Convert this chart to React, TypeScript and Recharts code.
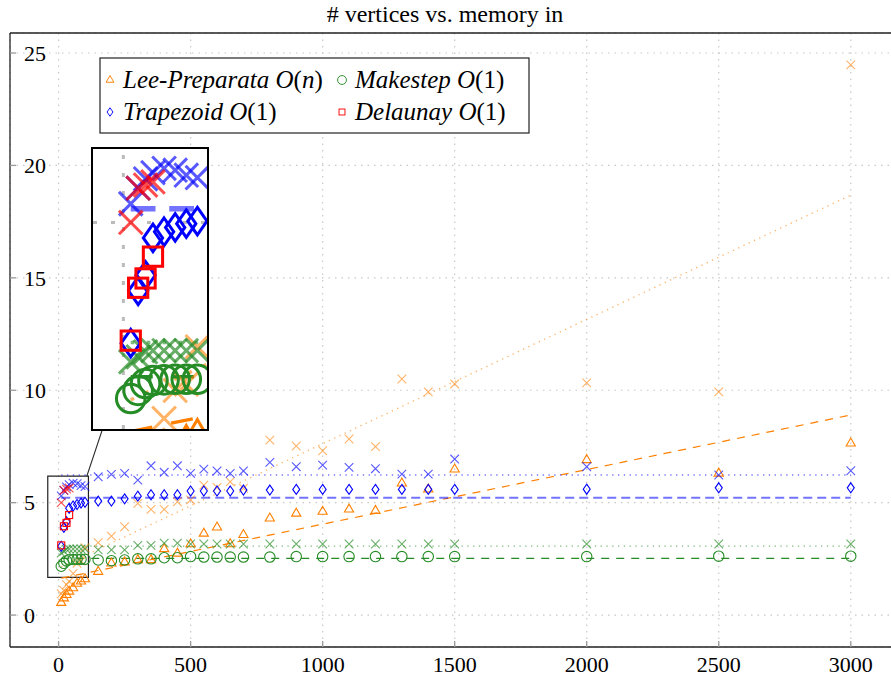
import React from 'react';
import {
  ScatterChart,
  Scatter,
  XAxis,
  YAxis,
  CartesianGrid,
  ReferenceArea,
  ReferenceLine,
} from 'recharts';

// number of vertices used in the runs
const sizes = [
  10, 20, 30, 40, 55, 70, 85, 100, 150, 200, 250, 300, 350, 400, 450, 500, 550, 600, 650,
  700, 800, 900, 1000, 1100, 1200, 1300, 1400, 1500, 2000, 2500, 3000,
];

const leeMem = [
  0.55, 0.75, 0.9, 1.05, 1.2, 1.4, 1.5, 1.6, 1.93, 2.3, 2.35, 2.45, 2.45, 2.94, 2.74, 3.16,
  3.63, 3.9, 3.16, 3.57, 4.3, 4.52, 4.6, 4.7, 4.64, 5.86, 5.59, 6.48, 6.9, 6.3, 7.64,
];
const leeAlt = [
  0.95, 1.1, 1.35, 1.5, 1.85, 2.3, 2.4, 3.0, 3.22, 3.51, 3.93, 4.97, 4.7, 4.7, 5.04, 5.12,
  5.78, 5.68, 5.93, 5.64, 7.78, 7.52, 7.31, 7.83, 7.49, 10.5, 9.93, 10.28, 10.33, 9.93, 24.47,
];
const makeMem = [
  2.17, 2.3, 2.41, 2.46, 2.47, 2.48, 2.48, 2.48, 2.45, 2.42, 2.45, 2.5, 2.5, 2.55, 2.55, 2.6,
  2.58, 2.58, 2.58, 2.58, 2.58, 2.6, 2.6, 2.6, 2.6, 2.6, 2.6, 2.6, 2.6, 2.62, 2.62,
];
const makeAlt = [
  2.76, 2.84, 2.92, 2.94, 2.94, 2.94, 2.94, 2.94, 2.9, 2.9, 2.9, 3.1, 3.1, 3.2, 3.2, 3.16,
  3.16, 3.16, 3.16, 3.16, 3.16, 3.16, 3.16, 3.16, 3.16, 3.16, 3.16, 3.16, 3.16, 3.16, 3.16,
];
const trapMem = [
  3.06, 3.9, 4.15, 4.75, 4.85, 4.92, 4.98, 5.02, 5.07, 5.07, 5.17, 5.29, 5.35, 5.35, 5.35,
  5.52, 5.52, 5.52, 5.52, 5.56, 5.56, 5.59, 5.59, 5.59, 5.59, 5.59, 5.59, 5.59, 5.6, 5.66, 5.66,
];
const trapAlt = [
  5.3, 5.55, 5.7, 5.8, 5.87, 5.84, 5.76, 5.72, 6.15, 6.26, 6.3, 6.0, 6.64, 6.35, 6.64, 6.3,
  6.49, 6.41, 6.3, 6.41, 6.79, 6.6, 6.67, 6.57, 6.51, 6.27, 6.27, 6.94, 6.6, 6.23, 6.42,
];
const delSizes = [10, 20, 30, 40];
const delMem = [3.1, 3.95, 4.1, 4.45];
const delAlt = [5.0, 5.55, 5.6, 5.65];

// fitted trend lines (end points)
const fitX = [10, 3000];
const leeFit = [1.64, 8.9];
const leeAltFit = [2.15, 18.68];
const makeFit = [2.52, 2.52];
const makeAltFit = [3.07, 3.07];
const trapFit = [5.22, 5.22];
const trapAltFit = [6.23, 6.23];

const xTicks = [0, 500, 1000, 1500, 2000, 2500, 3000];
const yTicks = [0, 5, 10, 15, 20, 25];

const LEE = '#ff8000';
const MAKE = '#268c26';
const TRAP = '#0000ff';
const DEL = '#ff0000';
const FONT = 'Liberation Serif';

type Kind = 'tri' | 'circ' | 'diam' | 'sq' | 'x';

const pts = (xs: number[], ys: number[]) => xs.map((x, i) => ({ x, y: ys[i] }));

function Marker({ kind, cx, cy, color, k, op }: { kind: Kind; cx: number; cy: number; color: string; k: number; op: number }) {
  const common = { fill: 'none', stroke: color, strokeWidth: 1.1 * k, strokeOpacity: op };
  if (kind === 'tri') {
    const r = 5.3 * k;
    return <polygon points={`${cx},${cy - r} ${cx - 0.866 * r},${cy + 0.5 * r} ${cx + 0.866 * r},${cy + 0.5 * r}`} {...common} />;
  }
  if (kind === 'circ') return <circle cx={cx} cy={cy} r={5.2 * k} {...common} />;
  if (kind === 'diam') {
    const h = 5 * k;
    const w = 3.5 * k;
    return <polygon points={`${cx},${cy - h} ${cx + w},${cy} ${cx},${cy + h} ${cx - w},${cy}`} {...common} />;
  }
  if (kind === 'sq') {
    const s = 3.5 * k;
    return <rect x={cx - s} y={cy - s} width={2 * s} height={2 * s} {...common} />;
  }
  const s = 4.3 * k;
  return <path d={`M${cx - s},${cy - s}L${cx + s},${cy + s}M${cx - s},${cy + s}L${cx + s},${cy - s}`} {...common} />;
}

const markSeries: { id: string; xs: number[]; ys: number[]; kind: Kind; color: string; op: number }[] = [
  { id: 'leeX', xs: sizes, ys: leeAlt, kind: 'x', color: LEE, op: 0.6 },
  { id: 'lee', xs: sizes, ys: leeMem, kind: 'tri', color: LEE, op: 1 },
  { id: 'makeX', xs: sizes, ys: makeAlt, kind: 'x', color: MAKE, op: 0.7 },
  { id: 'make', xs: sizes, ys: makeMem, kind: 'circ', color: MAKE, op: 1 },
  { id: 'trapX', xs: sizes, ys: trapAlt, kind: 'x', color: TRAP, op: 0.65 },
  { id: 'trap', xs: sizes, ys: trapMem, kind: 'diam', color: TRAP, op: 1 },
  { id: 'delX', xs: delSizes, ys: delAlt, kind: 'x', color: DEL, op: 0.7 },
  { id: 'del', xs: delSizes, ys: delMem, kind: 'sq', color: DEL, op: 1 },
];

const fitSeries = [
  { id: 'leeFit', ys: leeFit, color: LEE, op: 1, dash: [8, 7], w: 1.2 },
  { id: 'leeAltFit', ys: leeAltFit, color: LEE, op: 0.6, dash: [1.3, 4.5], w: 1.3 },
  { id: 'makeFit', ys: makeFit, color: MAKE, op: 1, dash: [8, 7], w: 1.2 },
  { id: 'makeAltFit', ys: makeAltFit, color: MAKE, op: 0.6, dash: [1.3, 4.5], w: 1.3 },
  { id: 'trapFit', ys: trapFit, color: TRAP, op: 0.55, dash: [9, 5], w: 2 },
  { id: 'trapAltFit', ys: trapAltFit, color: TRAP, op: 0.55, dash: [1.3, 4.5], w: 1.5 },
];

const noMark = () => <g />;

function series(k: number) {
  return [
    ...fitSeries.map((f) => (
      <Scatter
        key={f.id + k}
        data={pts(fitX, f.ys)}
        line={{ stroke: f.color, strokeOpacity: f.op, strokeWidth: f.w * k, strokeDasharray: f.dash.map((d) => d * k).join(' ') }}
        shape={noMark}
        isAnimationActive={false}
      />
    )),
    ...markSeries.map((s) => (
      <Scatter
        key={s.id + k}
        data={pts(s.xs, s.ys)}
        shape={(p: any) => <Marker kind={s.kind} cx={p.cx} cy={p.cy} color={s.color} k={k} op={s.op} />}
        isAnimationActive={false}
      />
    )),
  ];
}

const legendItems: { kind: Kind; color: string; name: string; arg: string; col: number; row: number }[] = [
  { kind: 'tri', color: LEE, name: 'Lee-Preparata', arg: 'n', col: 0, row: 0 },
  { kind: 'circ', color: MAKE, name: 'Makestep', arg: '1', col: 1, row: 0 },
  { kind: 'diam', color: TRAP, name: 'Trapezoid', arg: '1', col: 0, row: 1 },
  { kind: 'sq', color: DEL, name: 'Delaunay', arg: '1', col: 1, row: 1 },
];

export default function App() {
  const axisFont = { fill: '#000', fontSize: 22, fontFamily: FONT, style: { fontFamily: FONT } };
  return (
    <div style={{ position: 'absolute', left: 0, top: 0, width: 891, height: 677, overflow: 'hidden', background: '#fff', fontFamily: FONT }}>
      <ScatterChart width={920} height={677} margin={{ top: 33, right: 18, bottom: 0, left: 10 }} style={{ fontFamily: FONT }}>
        <CartesianGrid stroke="#c8c8c8" strokeWidth={1.2} strokeDasharray="1.5 5" />
        <XAxis
          type="number"
          dataKey="x"
          domain={[-184, 3194]}
          allowDataOverflow
          ticks={xTicks}
          height={30}
          tickSize={-6}
          tickMargin={15}
          tick={axisFont}
          tickLine={{ stroke: '#999', strokeWidth: 1.3 }}
          axisLine={{ stroke: '#222', strokeWidth: 1.3 }}
        />
        <XAxis
          xAxisId="top"
          orientation="top"
          mirror
          type="number"
          domain={[-184, 3194]}
          allowDataOverflow
          ticks={xTicks}
          tickSize={5}
          tick={false}
          tickLine={{ stroke: '#999', strokeWidth: 1.3 }}
          axisLine={{ stroke: '#222', strokeWidth: 1.3 }}
        />
        <YAxis
          type="number"
          dataKey="y"
          mirror
          domain={[-1.42, 25.89]}
          allowDataOverflow
          ticks={yTicks}
          tickSize={6}
          tickMargin={8}
          tick={axisFont}
          tickLine={{ stroke: '#999', strokeWidth: 1.3 }}
          axisLine={{ stroke: '#222', strokeWidth: 1.3 }}
        />
        {series(1)}
        <ReferenceArea x1={-41} x2={113} y1={1.68} y2={6.18} fill="none" fillOpacity={0} stroke="#222" strokeWidth={1.2} ifOverflow="visible" />
        <ReferenceLine segment={[{ x: 107, y: 6.18 }, { x: 166, y: 8.26 }]} stroke="#222" strokeWidth={1.1} ifOverflow="visible" />
      </ScatterChart>

      <svg width={891} height={677} style={{ position: 'absolute', left: 0, top: 0, pointerEvents: 'none', fontFamily: FONT }}>
        <text x={445} y={22} textAnchor="middle" fontSize={24} fill="#000" style={{ fontFamily: FONT }}>
          # vertices vs. memory in
        </text>
        <g transform="translate(100,58)">
          <rect x={0} y={0} width={429} height={75} fill="#fff" stroke="#222" strokeWidth={1.2} />
          {legendItems.map((it) => {
            const mx = it.col === 0 ? 10 : 242;
            const cy = it.row === 0 ? 22 : 54;
            return (
              <g key={it.name}>
                <Marker kind={it.kind} cx={mx} cy={cy} color={it.color} k={0.85} op={1} />
                <text x={mx + 13} y={cy + 8} fontSize={25} fill="#000" style={{ fontFamily: FONT }}>
                  <tspan fontStyle="italic">{it.name} O</tspan>
                  <tspan>(</tspan>
                  <tspan fontStyle={it.arg === 'n' ? 'italic' : 'normal'}>{it.arg}</tspan>
                  <tspan>)</tspan>
                </text>
              </g>
            );
          })}
        </g>
      </svg>

      <div style={{ position: 'absolute', left: 91, top: 147, width: 114, height: 280, border: '2px solid #000', background: '#fff', overflow: 'hidden' }}>
        <ScatterChart width={114} height={280} margin={{ top: 0, right: 0, bottom: 0, left: 0 }}>
          <XAxis type="number" dataKey="x" hide domain={[-41, 113]} allowDataOverflow />
          <YAxis type="number" dataKey="y" hide domain={[1.68, 6.18]} allowDataOverflow />
          <ReferenceLine x={0} stroke="#bbb" strokeWidth={3} strokeDasharray="4 14" />
          <ReferenceLine y={5} stroke="#bbb" strokeWidth={3} strokeDasharray="4 14" />
          {series(2.75)}
        </ScatterChart>
      </div>
    </div>
  );
}
